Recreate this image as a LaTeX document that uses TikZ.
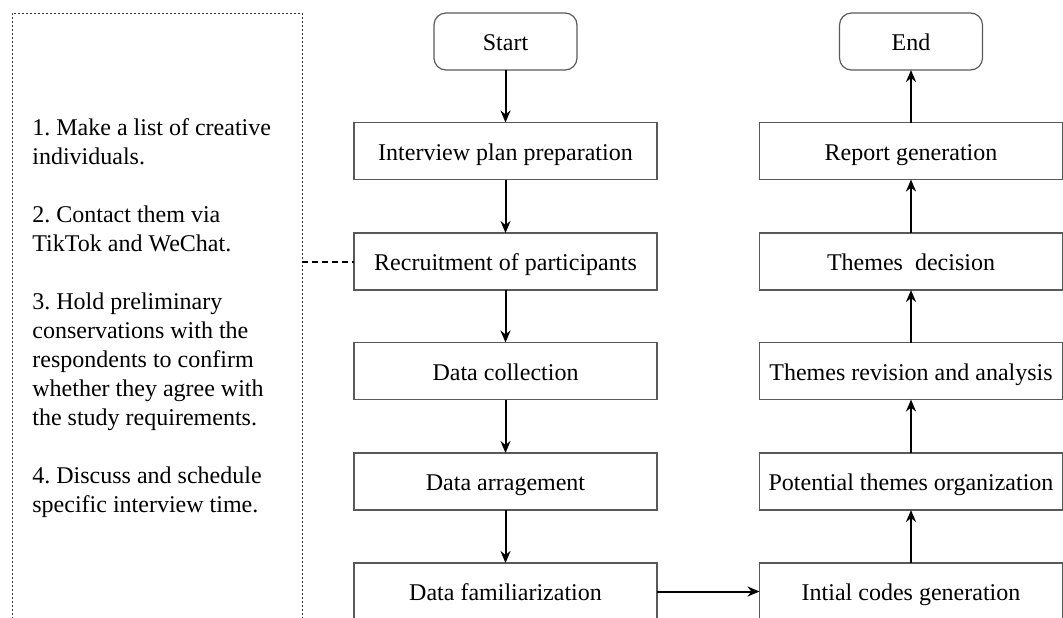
\documentclass[tikz,border=0pt]{standalone}
\usepackage{fontspec}
\setmainfont{Liberation Serif}
\usetikzlibrary{arrows.meta}
\frenchspacing
\tikzset{
  stepbox/.style={draw=black!65, line width=0.6pt, minimum width=151.5pt, minimum height=28.5pt, inner sep=2pt, outer sep=0pt, text height=9.5pt, text depth=0.5pt, font=\fontsize{12}{14.5}\selectfont},
  termbox/.style={stepbox, minimum width=71.5pt, rounded corners=6pt},
  panel/.style={draw=black!80, line width=0.5pt, dash pattern=on 1.2pt off 0.8pt, minimum width=145pt, minimum height=320pt, outer sep=0pt, inner sep=0pt},
  flow/.style={line width=1pt, -{Stealth[length=6pt,width=5pt]}},
  link/.style={line width=1pt, dash pattern=on 3pt off 2pt},
}
\begin{document}
\begin{tikzpicture}[x=0.5pt,y=-0.5pt]
\useasboundingbox (0,0) rectangle (1063,617);
\clip (0,0) rectangle (1063,617);
\node[panel, anchor=north west] (panel) at (12,13) {};
\node[anchor=north west, align=left, inner sep=0pt, font=\fontsize{12}{14.5}\selectfont] (notes) at (32,118) {1. Make a list of creative\\individuals.\\[14.5pt]2. Contact them via\\TikTok and WeChat.\\[14.5pt]3. Hold preliminary\\conservations with the\\respondents to confirm\\whether they agree with\\the study requirements.\\[14.5pt]4. Discuss and schedule\\specific interview time.};
% left column
\node[termbox] (start) at (505.5,41.5) {Start};
\node[stepbox] (s1) at (505.5,151) {Interview plan preparation};
\node[stepbox] (s2) at (505.5,261.5) {Recruitment of participants};
\node[stepbox] (s3) at (505.5,371) {Data collection};
\node[stepbox] (s4) at (505.5,481.5) {Data arragement};
\node[stepbox] (s5) at (505.5,591.5) {Data familiarization};
% right column
\node[termbox] (end) at (911,41.5) {End};
\node[stepbox] (r1) at (911,151) {Report generation};
\node[stepbox] (r2) at (911,261.5) {Themes\ \ decision};
\node[stepbox] (r3) at (911,371) {Themes revision and analysis};
\node[stepbox] (r4) at (911,481.5) {Potential themes organization};
\node[stepbox] (r5) at (911,591.5) {Intial codes generation};
% connectors
\draw[flow] (start) -- (s1);
\draw[flow] (s1) -- (s2);
\draw[flow] (s2) -- (s3);
\draw[flow] (s3) -- (s4);
\draw[flow] (s4) -- (s5);
\draw[flow] (s5) -- (r5);
\draw[flow] (r5) -- (r4);
\draw[flow] (r4) -- (r3);
\draw[flow] (r3) -- (r2);
\draw[flow] (r2) -- (r1);
\draw[flow] (r1) -- (end);
\draw[link] (panel.east |- s2.west) -- (s2.west);
\end{tikzpicture}
\end{document}
